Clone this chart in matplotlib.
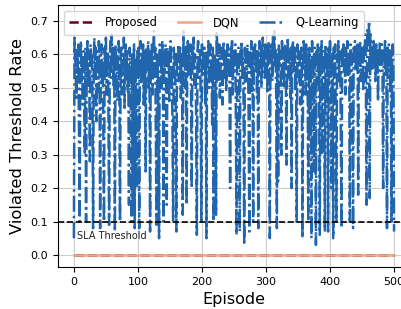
import numpy as np
import matplotlib
matplotlib.use('Agg')
import matplotlib.pyplot as plt

# Q-Learning violated threshold rate per episode
q_learning = [
    0.05, 0.65, 0.58, 0.62, 0.47, 0.60, 0.55, 0.63, 0.38, 0.10, 0.57, 0.64, 0.52, 0.59, 0.45, 0.61, 0.56, 0.30, 0.62, 0.10,
    0.58, 0.64, 0.50, 0.61, 0.55, 0.28, 0.63, 0.57, 0.60, 0.45, 0.08, 0.59, 0.65, 0.53, 0.62, 0.40, 0.57, 0.61, 0.49, 0.64,
    0.55, 0.08, 0.60, 0.63, 0.51, 0.58, 0.36, 0.10, 0.62, 0.56, 0.65, 0.48, 0.59, 0.61, 0.42, 0.09, 0.58, 0.64, 0.53, 0.66,
    0.57, 0.62, 0.50, 0.60, 0.07, 0.63, 0.55, 0.59, 0.46, 0.61, 0.64, 0.52, 0.10, 0.58, 0.62, 0.48, 0.60, 0.56, 0.65, 0.44,
    0.59, 0.63, 0.54, 0.61, 0.49, 0.57, 0.15, 0.62, 0.58, 0.40, 0.10, 0.60, 0.12, 0.55, 0.63, 0.08, 0.59, 0.47, 0.20, 0.61,
    0.56, 0.62, 0.08, 0.58, 0.64, 0.51, 0.60, 0.57, 0.63, 0.45, 0.59, 0.61, 0.25, 0.62, 0.55, 0.58, 0.64, 0.50, 0.60, 0.07,
    0.61, 0.57, 0.63, 0.48, 0.59, 0.67, 0.54, 0.62, 0.35, 0.09, 0.60, 0.56, 0.43, 0.05, 0.63, 0.58, 0.61, 0.50, 0.64, 0.57,
    0.10, 0.60, 0.55, 0.63, 0.49, 0.15, 0.62, 0.58, 0.61, 0.46, 0.59, 0.64, 0.53, 0.57, 0.38, 0.10, 0.62, 0.56, 0.60, 0.44,
    0.07, 0.61, 0.58, 0.63, 0.52, 0.59, 0.62, 0.47, 0.60, 0.55, 0.12, 0.67, 0.57, 0.61, 0.50, 0.63, 0.15, 0.59, 0.64, 0.54,
    0.60, 0.57, 0.63, 0.49, 0.20, 0.62, 0.58, 0.65, 0.51, 0.60, 0.56, 0.42, 0.06, 0.61, 0.64, 0.53, 0.59, 0.62, 0.47, 0.10,
    0.63, 0.58, 0.60, 0.54, 0.62, 0.45, 0.59, 0.05, 0.61, 0.57, 0.64, 0.50, 0.60, 0.63, 0.55, 0.58, 0.39, 0.62, 0.10, 0.56,
    0.60, 0.57, 0.12, 0.67, 0.61, 0.52, 0.59, 0.63, 0.47, 0.56, 0.62, 0.58, 0.45, 0.60, 0.64, 0.53, 0.57, 0.61, 0.49, 0.59,
    0.63, 0.56, 0.60, 0.51, 0.20, 0.62, 0.58, 0.64, 0.48, 0.59, 0.61, 0.55, 0.63, 0.42, 0.06, 0.60, 0.57, 0.62, 0.50, 0.07,
    0.61, 0.58, 0.64, 0.53, 0.59, 0.46, 0.03, 0.62, 0.57, 0.60, 0.52, 0.63, 0.58, 0.40, 0.07, 0.61, 0.56, 0.64, 0.49, 0.60,
    0.10, 0.62, 0.58, 0.63, 0.55, 0.60, 0.47, 0.61, 0.08, 0.59, 0.64, 0.56, 0.62, 0.50, 0.60, 0.65, 0.57, 0.61, 0.53, 0.63,
    0.58, 0.62, 0.49, 0.60, 0.64, 0.55, 0.05, 0.61, 0.58, 0.63, 0.52, 0.66, 0.59, 0.67, 0.56, 0.62, 0.48, 0.08, 0.60, 0.22,
    0.63, 0.57, 0.61, 0.54, 0.30, 0.64, 0.59, 0.62, 0.50, 0.58, 0.63, 0.56, 0.27, 0.60, 0.65, 0.53, 0.61, 0.57, 0.47, 0.62,
    0.20, 0.60, 0.64, 0.55, 0.59, 0.62, 0.49, 0.57, 0.10, 0.63, 0.58, 0.61, 0.52, 0.60, 0.45, 0.62, 0.56, 0.05, 0.59, 0.64,
    0.57, 0.61, 0.48, 0.63, 0.55, 0.60, 0.10, 0.58, 0.62, 0.35, 0.59, 0.05, 0.64, 0.56, 0.60, 0.25, 0.62, 0.57, 0.03, 0.61,
    0.58, 0.63, 0.51, 0.60, 0.06, 0.62, 0.57, 0.64, 0.30, 0.59, 0.61, 0.54, 0.07, 0.63, 0.58, 0.45, 0.60, 0.07, 0.62, 0.56,
    0.64, 0.59, 0.20, 0.61, 0.55, 0.05, 0.62, 0.58, 0.63, 0.40, 0.10, 0.60, 0.57, 0.64, 0.52, 0.61, 0.59, 0.35, 0.08, 0.62,
    0.57, 0.63, 0.55, 0.60, 0.48, 0.62, 0.58, 0.64, 0.53, 0.59, 0.61, 0.10, 0.63, 0.56, 0.60, 0.50, 0.08, 0.62, 0.58, 0.64,
    0.55, 0.61, 0.59, 0.63, 0.18, 0.60, 0.57, 0.64, 0.52, 0.62, 0.58, 0.61, 0.49, 0.63, 0.60, 0.66, 0.56, 0.15, 0.64, 0.68,
    0.62, 0.70, 0.17, 0.66, 0.59, 0.63, 0.55, 0.61, 0.64, 0.58, 0.60, 0.52, 0.63, 0.57, 0.61, 0.46, 0.62, 0.59, 0.64, 0.55,
    0.60, 0.63, 0.57, 0.20, 0.61, 0.58, 0.64, 0.53, 0.60, 0.08, 0.62, 0.56, 0.63, 0.59, 0.49, 0.61, 0.10, 0.58, 0.63, 0.55,
    0.07,
]
episodes = np.arange(len(q_learning))
# Proposed and DQN never violate the threshold
proposed = [0.0] * len(q_learning)
dqn = [0.0] * len(q_learning)
sla_threshold = 0.1

fig = plt.figure(figsize=(4.02, 3.09), dpi=100)
ax = fig.add_axes([0.144, 0.136, 0.876, 0.848])

ax.plot(episodes, proposed, '--', color='#67001f', lw=1.8, label='Proposed')
ax.plot(episodes, dqn, '-', color='#f4a582', lw=1.8, label='DQN')
ax.plot(episodes, q_learning, '-.', color='#2166ac', lw=1.8, label='Q-Learning')

ax.axhline(sla_threshold, color='black', linestyle='--', lw=1.2)
ax.text(5, 0.057, 'SLA Threshold', fontsize=7, va='center', ha='left', color='#222222')

ax.set_xlim(-25, 525)
ax.set_ylim(-0.036, 0.748)
ax.set_xlabel('Episode', fontsize=11.5)
ax.set_ylabel('Violated Threshold Rate', fontsize=11.8)
ax.tick_params(labelsize=8)
ax.set_yticks([0.0, 0.1, 0.2, 0.3, 0.4, 0.5, 0.6, 0.7])
ax.grid(True, color='#cccccc', lw=0.8)
ax.legend(loc='upper left', ncol=3, fontsize=8.3, handletextpad=1.1,
          columnspacing=1.7, borderpad=0.5)

fig.savefig('out.png', dpi=100)
